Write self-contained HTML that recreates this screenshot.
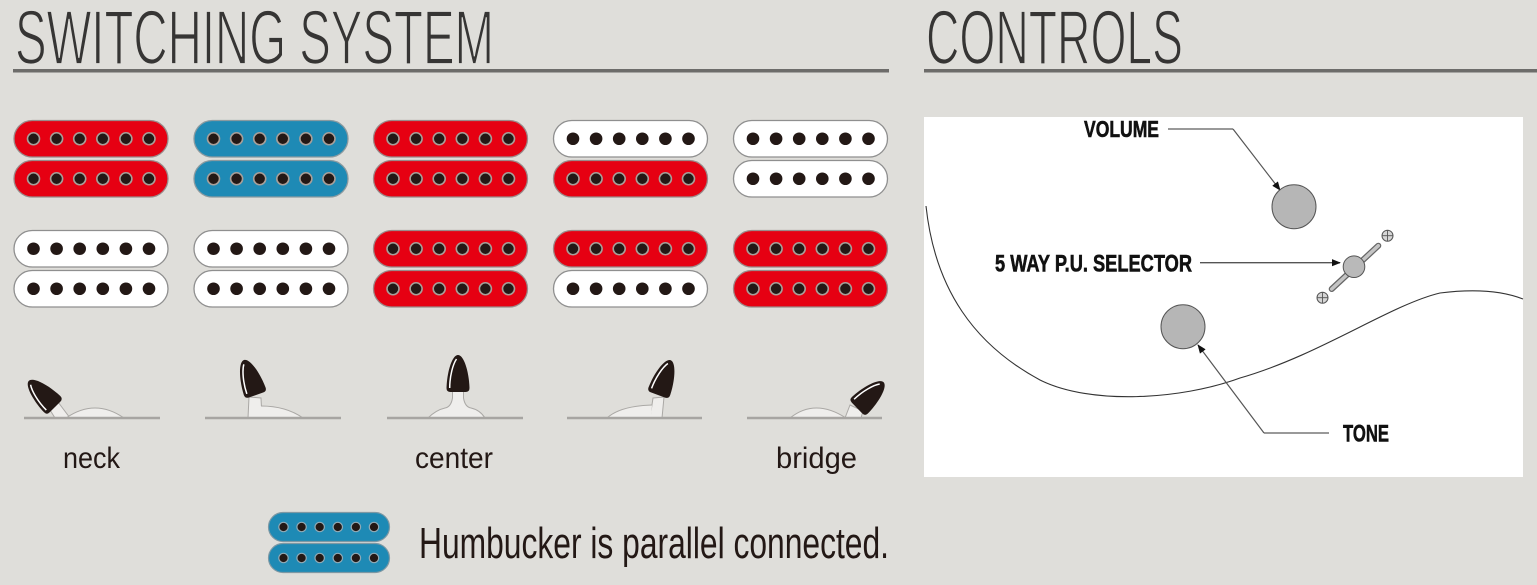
<!DOCTYPE html>
<html>
<head>
<meta charset="utf-8">
<style>
  html, body { margin: 0; padding: 0; background: #dfdeda; }
  body { width: 1537px; height: 585px; overflow: hidden; }
  svg { display: block; }
  .hd { font-family: "Liberation Sans Narrow", "Liberation Sans", sans-serif; fill: #363534; stroke: #dfdeda; stroke-width: 1.8; paint-order: normal; }
  .lbl { font-family: "Liberation Sans Narrow", "Liberation Sans", sans-serif; fill: #231815; }
  .ctl { font-family: "Liberation Sans Narrow", "Liberation Sans", sans-serif; font-weight: bold; fill: #111; stroke: #111; stroke-width: 0.6; }
</style>
</head>
<body>
<svg width="1537" height="585" viewBox="0 0 1537 585" xmlns="http://www.w3.org/2000/svg">
  <defs>
    <g id="dc">
      <circle cx="19.5" cy="18.25" r="6" fill="#231815" stroke="#a89f99" stroke-width="1.6"/>
      <circle cx="42.6" cy="18.25" r="6" fill="#231815" stroke="#a89f99" stroke-width="1.6"/>
      <circle cx="65.7" cy="18.25" r="6" fill="#231815" stroke="#a89f99" stroke-width="1.6"/>
      <circle cx="88.8" cy="18.25" r="6" fill="#231815" stroke="#a89f99" stroke-width="1.6"/>
      <circle cx="111.9" cy="18.25" r="6" fill="#231815" stroke="#a89f99" stroke-width="1.6"/>
      <circle cx="135" cy="18.25" r="6" fill="#231815" stroke="#a89f99" stroke-width="1.6"/>
    </g>
    <g id="dw">
      <circle cx="19.5" cy="18.25" r="6.3" fill="#231815"/>
      <circle cx="42.6" cy="18.25" r="6.3" fill="#231815"/>
      <circle cx="65.7" cy="18.25" r="6.3" fill="#231815"/>
      <circle cx="88.8" cy="18.25" r="6.3" fill="#231815"/>
      <circle cx="111.9" cy="18.25" r="6.3" fill="#231815"/>
      <circle cx="135" cy="18.25" r="6.3" fill="#231815"/>
    </g>
    <g id="dl">
      <circle cx="15" cy="14.5" r="4.7" fill="#231815" stroke="#8fa9b5" stroke-width="1.2"/>
      <circle cx="33.1" cy="14.5" r="4.7" fill="#231815" stroke="#8fa9b5" stroke-width="1.2"/>
      <circle cx="51.2" cy="14.5" r="4.7" fill="#231815" stroke="#8fa9b5" stroke-width="1.2"/>
      <circle cx="69.3" cy="14.5" r="4.7" fill="#231815" stroke="#8fa9b5" stroke-width="1.2"/>
      <circle cx="87.4" cy="14.5" r="4.7" fill="#231815" stroke="#8fa9b5" stroke-width="1.2"/>
      <circle cx="105.5" cy="14.5" r="4.7" fill="#231815" stroke="#8fa9b5" stroke-width="1.2"/>
    </g>
    <g id="knob">
      <path d="M -11.5,-4 Q -11.5,0 -7.5,0 L 7.5,0 Q 11.5,0 11.5,-4 C 11,-20 6,-37 0,-37 C -6,-37 -11,-20 -11.5,-4 Z" fill="#231815"/>
      <path d="M -8.3,-4 C -8.3,-16 -5,-28 -1.5,-33" fill="none" stroke="#ffffff" stroke-width="1.5"/>
    </g>
    <marker id="ah" viewBox="0 0 10 10" refX="9" refY="5" markerWidth="9" markerHeight="9" markerUnits="userSpaceOnUse" orient="auto">
      <path d="M0,1 L10,5 L0,9 Z" fill="#111"/>
    </marker>
  </defs>

  <!-- Headers -->
  <text class="hd" x="15" y="64" font-size="77" textLength="479" lengthAdjust="spacingAndGlyphs">SWITCHING SYSTEM</text>
  <rect x="13" y="69" width="876" height="3.5" fill="#6d6c6a"/>
  <text class="hd" x="926" y="64" font-size="77" textLength="257" lengthAdjust="spacingAndGlyphs">CONTROLS</text>
  <rect x="924" y="69" width="613" height="3.5" fill="#6d6c6a"/>

  <!-- Pickups: column 1 -->
  <rect x="14" y="120.5" width="154" height="36.5" rx="18.25" fill="#e60012" stroke="#9a8a8a" stroke-width="1.3"/><use href="#dc" x="14" y="120.5"/>
  <rect x="14" y="160.5" width="154" height="36.5" rx="18.25" fill="#e60012" stroke="#9a8a8a" stroke-width="1.3"/><use href="#dc" x="14" y="160.5"/>
  <rect x="14" y="230.5" width="154" height="36.5" rx="18.25" fill="#ffffff" stroke="#8f8f8f" stroke-width="1.3"/><use href="#dw" x="14" y="230.5"/>
  <rect x="14" y="270.5" width="154" height="36.5" rx="18.25" fill="#ffffff" stroke="#8f8f8f" stroke-width="1.3"/><use href="#dw" x="14" y="270.5"/>

  <!-- column 2 -->
  <rect x="194" y="120.5" width="154" height="36.5" rx="18.25" fill="#1e8ab5" stroke="#8a9aa0" stroke-width="1.3"/><use href="#dc" x="194" y="120.5"/>
  <rect x="194" y="160.5" width="154" height="36.5" rx="18.25" fill="#1e8ab5" stroke="#8a9aa0" stroke-width="1.3"/><use href="#dc" x="194" y="160.5"/>
  <rect x="194" y="230.5" width="154" height="36.5" rx="18.25" fill="#ffffff" stroke="#8f8f8f" stroke-width="1.3"/><use href="#dw" x="194" y="230.5"/>
  <rect x="194" y="270.5" width="154" height="36.5" rx="18.25" fill="#ffffff" stroke="#8f8f8f" stroke-width="1.3"/><use href="#dw" x="194" y="270.5"/>

  <!-- column 3 -->
  <rect x="373.5" y="120.5" width="154" height="36.5" rx="18.25" fill="#e60012" stroke="#9a8a8a" stroke-width="1.3"/><use href="#dc" x="373.5" y="120.5"/>
  <rect x="373.5" y="160.5" width="154" height="36.5" rx="18.25" fill="#e60012" stroke="#9a8a8a" stroke-width="1.3"/><use href="#dc" x="373.5" y="160.5"/>
  <rect x="373.5" y="230.5" width="154" height="36.5" rx="18.25" fill="#e60012" stroke="#9a8a8a" stroke-width="1.3"/><use href="#dc" x="373.5" y="230.5"/>
  <rect x="373.5" y="270.5" width="154" height="36.5" rx="18.25" fill="#e60012" stroke="#9a8a8a" stroke-width="1.3"/><use href="#dc" x="373.5" y="270.5"/>

  <!-- column 4 -->
  <rect x="553.5" y="120.5" width="154" height="36.5" rx="18.25" fill="#ffffff" stroke="#8f8f8f" stroke-width="1.3"/><use href="#dw" x="553.5" y="120.5"/>
  <rect x="553.5" y="160.5" width="154" height="36.5" rx="18.25" fill="#e60012" stroke="#9a8a8a" stroke-width="1.3"/><use href="#dc" x="553.5" y="160.5"/>
  <rect x="553.5" y="230.5" width="154" height="36.5" rx="18.25" fill="#e60012" stroke="#9a8a8a" stroke-width="1.3"/><use href="#dc" x="553.5" y="230.5"/>
  <rect x="553.5" y="270.5" width="154" height="36.5" rx="18.25" fill="#ffffff" stroke="#8f8f8f" stroke-width="1.3"/><use href="#dw" x="553.5" y="270.5"/>

  <!-- column 5 -->
  <rect x="733.5" y="120.5" width="154" height="36.5" rx="18.25" fill="#ffffff" stroke="#8f8f8f" stroke-width="1.3"/><use href="#dw" x="733.5" y="120.5"/>
  <rect x="733.5" y="160.5" width="154" height="36.5" rx="18.25" fill="#ffffff" stroke="#8f8f8f" stroke-width="1.3"/><use href="#dw" x="733.5" y="160.5"/>
  <rect x="733.5" y="230.5" width="154" height="36.5" rx="18.25" fill="#e60012" stroke="#9a8a8a" stroke-width="1.3"/><use href="#dc" x="733.5" y="230.5"/>
  <rect x="733.5" y="270.5" width="154" height="36.5" rx="18.25" fill="#e60012" stroke="#9a8a8a" stroke-width="1.3"/><use href="#dc" x="733.5" y="270.5"/>

  <!-- Switches: stems -->
  <g fill="#efeeec" stroke="#aaa8a5" stroke-width="1">
    <polygon points="50,410 58,402 70,418 55,418"/>
    <polygon points="249,397 261,398 262,418 248,418"/>
    <polygon points="653,398 664,397 662,418 650,418"/>
    <polygon points="850,405 863,411 861,418 845,418"/>
  </g>
  <!-- mounds -->
  <g fill="#efeeec" stroke="none">
    <path d="M66,418 Q95,398 124,418 Z"/>
    <path d="M260,406 Q286,406 303,418 L261,418 Z"/>
    <path d="M428,418 Q436,410 445,408 Q451,407 452.5,398 L452.5,391 L463.5,391 L463.5,398 Q465,407 471,408 Q480,410 485,418 Z"/>
    <path d="M607,418 Q620,406 652,405 L651,418 Z"/>
    <path d="M790,418 Q815,398 846,418 Z"/>
  </g>
  <g fill="none" stroke="#aaa8a5" stroke-width="1">
    <path d="M66,418 Q95,398 124,418"/>
    <path d="M261,406 Q286,406 303,418"/>
    <path d="M428,418 Q436,410 445,408 Q451,407 452.5,398 L452.5,391 M463.5,391 L463.5,398 Q465,407 471,408 Q480,410 485,418"/>
    <path d="M607,418 Q620,406 652,405"/>
    <path d="M790,418 Q815,398 846,418"/>
  </g>
  <!-- base lines -->
  <g stroke="#a7a5a2" stroke-width="2.6">
    <line x1="24" y1="418" x2="160" y2="418"/>
    <line x1="205" y1="418" x2="341" y2="418"/>
    <line x1="387" y1="418" x2="523" y2="418"/>
    <line x1="567" y1="418" x2="702" y2="418"/>
    <line x1="747" y1="418" x2="882" y2="418"/>
  </g>
  <!-- knobs -->
  <use href="#knob" transform="translate(55,407) rotate(-45)"/>
  <use href="#knob" transform="translate(256,395) rotate(-19)"/>
  <use href="#knob" transform="translate(458,392)"/>
  <use href="#knob" transform="translate(658,395) rotate(20)"/>
  <use href="#knob" transform="translate(857,408) rotate(46)"/>

  <!-- switch labels -->
  <text class="lbl" x="63" y="468" font-size="30" textLength="57" lengthAdjust="spacingAndGlyphs">neck</text>
  <text class="lbl" x="415" y="468" font-size="30" textLength="78" lengthAdjust="spacingAndGlyphs">center</text>
  <text class="lbl" x="776" y="468" font-size="30" textLength="81" lengthAdjust="spacingAndGlyphs">bridge</text>

  <!-- legend -->
  <rect x="268.5" y="512.5" width="121" height="29" rx="14.5" fill="#1e8ab5" stroke="#7d98a4" stroke-width="1.2"/><use href="#dl" x="268.5" y="512.5"/>
  <rect x="268.5" y="543.5" width="121" height="29" rx="14.5" fill="#1e8ab5" stroke="#7d98a4" stroke-width="1.2"/><use href="#dl" x="268.5" y="543.5"/>
  <text class="lbl" x="419" y="558" font-size="44" textLength="470" lengthAdjust="spacingAndGlyphs">Humbucker is parallel connected.</text>

  <!-- Controls panel -->
  <rect x="924" y="117" width="599" height="360" fill="#ffffff"/>
  <path d="M926,206 C935,290 975,345 1040,380 C1090,405 1180,400 1240,378 C1320,355 1390,305 1440,293 C1480,288 1505,292 1523,299" fill="none" stroke="#333" stroke-width="1.1"/>

  <!-- volume -->
  <text class="ctl" x="1084" y="137" font-size="23" textLength="75" lengthAdjust="spacingAndGlyphs">VOLUME</text>
  <line x1="1168" y1="129" x2="1233" y2="129" stroke="#999" stroke-width="2"/>
  <line x1="1233" y1="129" x2="1280" y2="190" stroke="#555" stroke-width="1.2" marker-end="url(#ah)"/>
  <circle cx="1294" cy="206.7" r="22" fill="#b6b6b6" stroke="#555" stroke-width="1"/>

  <!-- selector -->
  <text class="ctl" x="995" y="271.5" font-size="24" textLength="197" lengthAdjust="spacingAndGlyphs">5 WAY P.U. SELECTOR</text>
  <line x1="1200" y1="262.7" x2="1340" y2="262.7" stroke="#555" stroke-width="1.3" marker-end="url(#ah)"/>
  <line x1="1331.7" y1="289" x2="1378.3" y2="245.7" stroke="#666" stroke-width="6" stroke-linecap="round"/>
  <line x1="1331.7" y1="289" x2="1378.3" y2="245.7" stroke="#c4c4c4" stroke-width="3.5" stroke-linecap="round"/>
  <circle cx="1354" cy="266.7" r="10.8" fill="#b9b9b9" stroke="#555" stroke-width="1"/>
  <g stroke="#555" stroke-width="1" fill="#d6d6d6">
    <circle cx="1387.5" cy="235.7" r="5.5"/>
    <circle cx="1322.5" cy="297.7" r="5.5"/>
  </g>
  <g stroke="#555" stroke-width="0.9">
    <line x1="1382" y1="235.7" x2="1393" y2="235.7"/><line x1="1387.5" y1="230.2" x2="1387.5" y2="241.2"/>
    <line x1="1317" y1="297.7" x2="1328" y2="297.7"/><line x1="1322.5" y1="292.2" x2="1322.5" y2="303.2"/>
  </g>

  <!-- tone -->
  <circle cx="1183" cy="326.7" r="22" fill="#b6b6b6" stroke="#555" stroke-width="1"/>
  <line x1="1329" y1="433" x2="1264" y2="433" stroke="#999" stroke-width="2"/>
  <line x1="1264" y1="433" x2="1198" y2="345" stroke="#555" stroke-width="1.2" marker-end="url(#ah)"/>
  <text class="ctl" x="1343" y="441.5" font-size="24" textLength="46" lengthAdjust="spacingAndGlyphs">TONE</text>
</svg>
</body>
</html>
